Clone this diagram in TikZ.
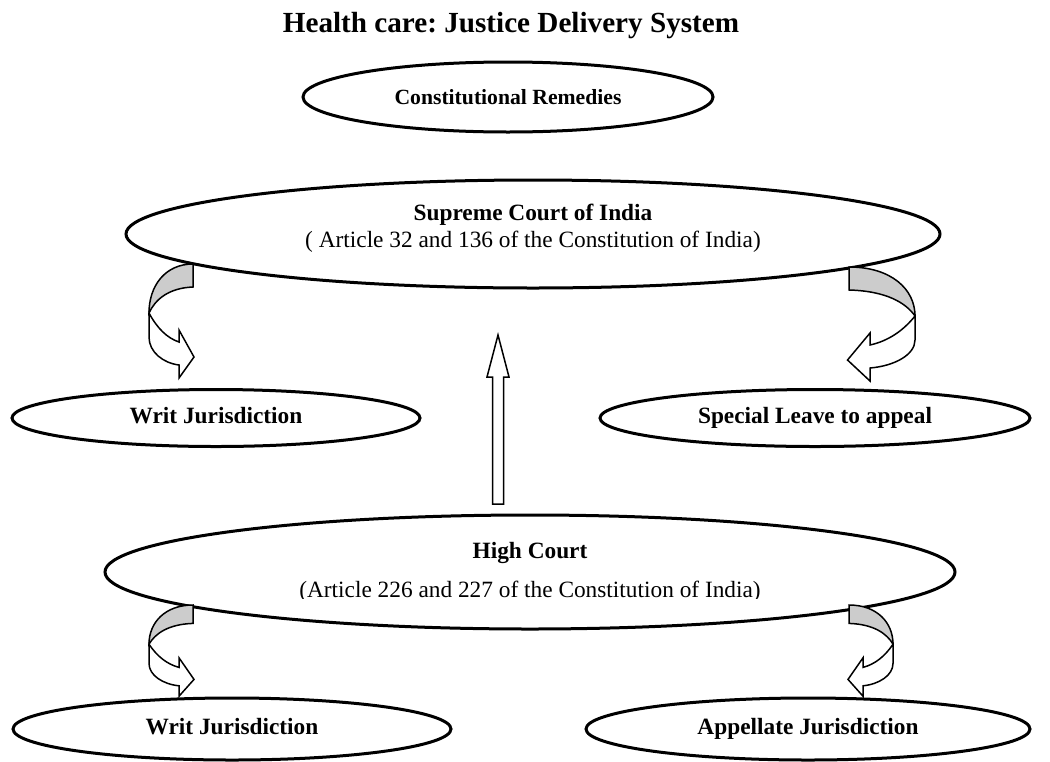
\documentclass[tikz,border=0pt]{standalone}
\usepackage{fontspec}
\setmainfont{Liberation Serif}
\frenchspacing
\usetikzlibrary{positioning,shapes.geometric}

\tikzset{
  court/.style={draw=black, line width=1.8pt, ellipse, inner sep=0pt, align=center, font=\fontsize{14}{16}\selectfont},
  courttext/.style={inner sep=0pt, align=center, font=\fontsize{14}{16.2}\selectfont},
  bendpart/.style={draw=black, line width=0.9pt, line join=miter},
  bendarrow/.pic={
    \draw[bendpart, fill=gray!40] (0,0) -- (0,23) .. controls (-25,24) and (-38,36) .. (-44,49)
      .. controls (-44,22) and (-28,0) .. cycle;
    \draw[bendpart, fill=white] (-44,49) .. controls (-36,64) and (-26,74) .. (-14,78)
      -- (-14,66) -- (1,93) -- (-14,114) -- (-14,101)
      .. controls (-30,99) and (-44,88) .. (-44,73) -- cycle;
  }
}

\begin{document}
\begin{tikzpicture}[x=0.6pt,y=-0.6pt]
  \useasboundingbox (0,0) rectangle (1050,761);
  % title
  \node (title) at (511,26) {\fontsize{17.5}{20}\selectfont\bfseries Health care: Justice Delivery System};
  % ellipses
  \node[court, minimum width=410*0.6pt, minimum height=70*0.6pt, font=\fontsize{13}{15}\selectfont] (remedies) at (508,97) {\bfseries Constitutional Remedies};
  \node[court, minimum width=814*0.6pt, minimum height=108*0.6pt] (supreme) at (533,234) {};
  \node[courttext] (supremetext) at ([yshift=3.6pt]supreme.center)
    {\bfseries Supreme Court of India\\( Article 32 and 136 of the Constitution of India)};
  \node[court, minimum width=408*0.6pt, minimum height=57*0.6pt] (writtop) at (216,418) {\bfseries Writ Jurisdiction\strut};
  \node[court, minimum width=430*0.6pt, minimum height=57*0.6pt] (leave) at (815,418) {\bfseries Special Leave to appeal\strut};
  \node[court, minimum width=850*0.6pt, minimum height=114*0.6pt] (high) at (530,572) {};
  \node[courttext] (hightitle) at (530,553) {\bfseries High Court};
  \begin{scope}
    \clip (300,560) rectangle (760,598);
    \node[courttext, anchor=base] (higharticle) at (530,597) {(Article 226 and 227 of the Constitution of India)};
  \end{scope}
  \node[court, minimum width=438*0.6pt, minimum height=62*0.6pt] (writlow) at (232,729) {\bfseries Writ Jurisdiction\strut};
  \node[court, minimum width=444*0.6pt, minimum height=62*0.6pt] (appellate) at (808,729) {\bfseries Appellate Jurisdiction\strut};
  % bent arrows
  \pic at (193,264) {bendarrow};
  \pic[xscale=-1.5] at (849,267) {bendarrow};
  \pic[yscale=0.8] at (193,605) {bendarrow};
  \pic[xscale=-1,yscale=0.8] at (849,605) {bendarrow};
  % up arrow
  \coordinate (upfoot) at (498,504);
  \draw[bendpart, fill=white] (upfoot) ++(-5.5,0) -- ++(0,-127) -- ++(-5.5,0) -- (498,335)
    -- ++(11,42) -- ++(-5.5,0) -- ++(0,127) -- cycle;
\end{tikzpicture}
\end{document}
